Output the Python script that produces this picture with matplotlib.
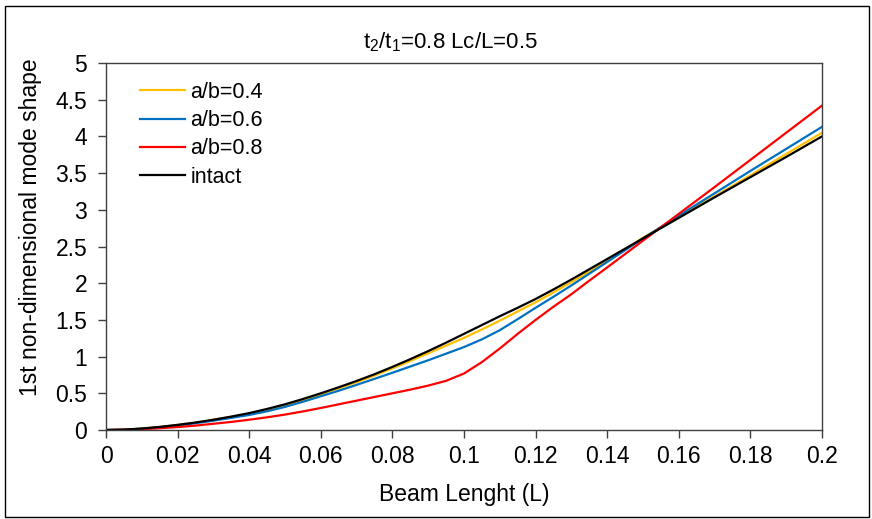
import matplotlib.pyplot as plt
from matplotlib.patches import Rectangle

plt.rcParams['font.family'] = ['Liberation Sans', 'DejaVu Sans']
plt.rcParams['mathtext.fontset'] = 'custom'
plt.rcParams['mathtext.rm'] = 'Liberation Sans'
plt.rcParams['mathtext.it'] = 'Liberation Sans'

# positions along the beam
x = [0, 0.005, 0.01, 0.015, 0.02, 0.025, 0.03, 0.035, 0.04, 0.045, 0.05, 0.055, 0.06,
     0.065, 0.07, 0.075, 0.08, 0.085, 0.09, 0.095, 0.1, 0.105, 0.11, 0.115, 0.12,
     0.125, 0.13, 0.135, 0.14, 0.15, 0.16, 0.17, 0.18, 0.19, 0.2]

ab04 = [0, 0.005, 0.019, 0.041, 0.069, 0.1, 0.137, 0.179, 0.222, 0.278, 0.34, 0.41,
        0.488, 0.568, 0.652, 0.742, 0.84, 0.94, 1.045, 1.15, 1.255, 1.37, 1.49, 1.615,
        1.74, 1.875, 2.015, 2.16, 2.3, 2.62, 2.9, 3.185, 3.47, 3.76, 4.05]
ab06 = [0, 0.004, 0.017, 0.037, 0.063, 0.093, 0.127, 0.165, 0.205, 0.255, 0.315, 0.385,
        0.46, 0.535, 0.615, 0.697, 0.78, 0.865, 0.95, 1.04, 1.13, 1.235, 1.36, 1.51,
        1.665, 1.815, 1.97, 2.13, 2.29, 2.61, 2.92, 3.225, 3.53, 3.83, 4.13]
ab08 = [0, 0.003, 0.011, 0.024, 0.04, 0.06, 0.085, 0.11, 0.14, 0.173, 0.21, 0.253,
        0.3, 0.35, 0.4, 0.45, 0.5, 0.55, 0.605, 0.67, 0.77, 0.925, 1.11, 1.31,
        1.5, 1.68, 1.85, 2.035, 2.215, 2.58, 2.945, 3.31, 3.68, 4.05, 4.42]
intact = [0, 0.005, 0.02, 0.042, 0.07, 0.102, 0.14, 0.183, 0.23, 0.287, 0.35, 0.422,
          0.5, 0.582, 0.668, 0.76, 0.86, 0.965, 1.075, 1.19, 1.31, 1.43, 1.55, 1.665,
          1.785, 1.915, 2.05, 2.19, 2.33, 2.61, 2.89, 3.17, 3.445, 3.72, 4.0]

xticks = [0, 0.02, 0.04, 0.06, 0.08, 0.1, 0.12, 0.14, 0.16, 0.18, 0.2]
xlabels = ['0', '0.02', '0.04', '0.06', '0.08', '0.1', '0.12', '0.14', '0.16', '0.18', '0.2']
yticks = [0, 0.5, 1, 1.5, 2, 2.5, 3, 3.5, 4, 4.5, 5]
ylabels = ['0', '0.5', '1', '1.5', '2', '2.5', '3', '3.5', '4', '4.5', '5']

W, H = 872, 519
fig = plt.figure(figsize=(W / 100, H / 100), dpi=100)
ax = fig.add_axes([106 / W, 1 - 430 / H, 716 / W, 367 / H])

ax.plot(x, ab04, color='#FFC000', lw=1.6, label='a/b=0.4')
ax.plot(x, ab06, color='#0070C0', lw=1.6, label='a/b=0.6')
ax.plot(x, ab08, color='#FF0000', lw=1.6, label='a/b=0.8')
ax.plot(x, intact, color='black', lw=1.6, label='intact')

ax.set_xlim(0, 0.2)
ax.set_ylim(0, 5)
ax.set_xticks(xticks)
ax.set_xticklabels(xlabels)
ax.set_yticks(yticks)
ax.set_yticklabels(ylabels)
ax.tick_params(direction='out', length=5.5, width=1, labelsize=16.5,
               colors='#404040', labelcolor='black')
ax.tick_params(axis='x', pad=5)
ax.tick_params(axis='y', pad=8)
for s in ax.spines.values():
    s.set_color('#404040')
    s.set_linewidth(1)

# axis titles and chart title
fig.text(464 / W, 1 - 494 / H, 'Beam Lenght (L)', fontsize=16.5,
         ha='center', va='center')
fig.text(30 / W, 1 - 227 / H, '1st non-dimensional mode shape', fontsize=16.5,
         ha='center', va='center', rotation=90)
fig.text(450 / W, 1 - 42 / H, 't$_2$/t$_1$=0.8 Lc/L=0.5', fontsize=16,
         ha='center', va='center')

ax.legend(loc='upper left', bbox_to_anchor=(0.0475, 0.949), frameon=False,
          borderpad=0, borderaxespad=0, fontsize=15.5, handlelength=2.1,
          handletextpad=0.25, labelspacing=0.34)

# outer chart border
fig.patches.append(Rectangle((5 / W, 2 / H), 864 / W, 511 / H,
                             transform=fig.transFigure, fill=False,
                             edgecolor='black', lw=1))

fig.savefig('out.png', dpi=100)
